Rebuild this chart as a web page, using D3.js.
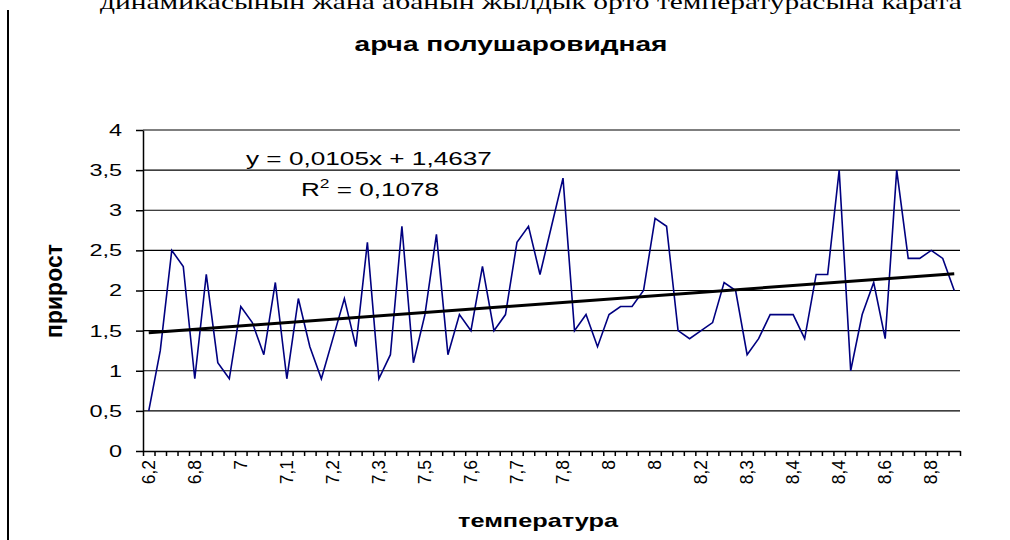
<!DOCTYPE html>
<html>
<head>
<meta charset="utf-8">
<script src="https://cdn.jsdelivr.net/npm/d3@7"></script>
<style>
    body { margin: 0; background: #fff; }
    svg { display: block; font-family: "Liberation Sans", Arial, sans-serif; }
</style>
</head>
<body>
<svg id="chart" width="1010" height="540"></svg>
<script>
// growth values (прирост), one per category along the x axis
const values = [
    0.5, 1.25, 2.5, 2.3, 0.9, 2.2, 1.1, 0.9, 1.8, 1.6, 1.2, 2.1,
    0.9, 1.9, 1.3, 0.9, 1.4, 1.9, 1.3, 2.6, 0.9, 1.2, 2.8, 1.1,
    1.7, 2.7, 1.2, 1.7, 1.5, 2.3, 1.5, 1.7, 2.6, 2.8, 2.2, 2.8,
    3.4, 1.5, 1.7, 1.3, 1.7, 1.8, 1.8, 2.0, 2.9, 2.8, 1.5, 1.4,
    1.5, 1.6, 2.1, 2.0, 1.2, 1.4, 1.7, 1.7, 1.7, 1.4, 2.2, 2.2,
    3.5, 1.0, 1.7, 2.1, 1.4, 3.5, 2.4, 2.4, 2.5, 2.4, 2.0
];

// temperature labels, only every 4th category is labelled in the chart
const tickLabels = ["6,2", "6,8", "7", "7,1", "7,2", "7,3", "7,5", "7,6", "7,7",
    "7,8", "8", "8", "8,2", "8,3", "8,4", "8,4", "8,6", "8,8"];
const labelStep = 4;

const yTicks = [0, 0.5, 1, 1.5, 2, 2.5, 3, 3.5, 4];

// linear trend shown on the chart
const slope = 0.0105,
    intercept = 1.4637,
    rSquared = 0.1078;

let margin = {top: 130, right: 50, bottom: 89, left: 143},
    width = 1010 - margin.left - margin.right,
    height = 540 - margin.top - margin.bottom;

let svg = d3.select("#chart");

let fmt = d => String(d).replace(".", ",");

// the excel chart fonts are wider than normal, so stretch a text to a given width
function stretch(text, x, y, targetWidth) {
    let w = text.node().getComputedTextLength();
    text.attr("transform", "translate(" + x + "," + y + ") scale(" + (targetWidth / w) + ",1)");
}

// cut off line of the document text above the chart
let docLine = svg.append("text")
    .style("font-family", "'Liberation Serif', 'Times New Roman', serif")
    .style("font-size", "21px")
    .text("динамикасынын жана абанын жылдык орто температурасына карата");
stretch(docLine, 100, 9, 862);

// frame line at the left side of the page
svg.append("line")
    .attr("x1", 8).attr("x2", 8)
    .attr("y1", 10).attr("y2", 540)
    .attr("stroke", "#000")
    .attr("stroke-width", 2);

let title = svg.append("text")
    .attr("text-anchor", "middle")
    .style("font-size", "20px")
    .style("font-weight", "bold")
    .text("арча полушаровидная");
stretch(title, 511, 51, 313);

let g = svg.append("g")
    .attr("transform", "translate(" + margin.left + "," + margin.top + ")");

let n = values.length;

let xScale = d3.scaleLinear().domain([0, n]).range([0, width]),
    yScale = d3.scaleLinear().domain([0, 4]).range([height, 0]);

let xMap = (d, i) => xScale(i + 0.5),
    yMap = d => yScale(d);

// horizontal gridlines
g.selectAll(".grid")
    .data(yTicks.slice(1))
    .enter().append("line")
    .attr("class", "grid")
    .attr("x1", 0)
    .attr("x2", width)
    .attr("y1", yScale)
    .attr("y2", yScale)
    .attr("stroke", "#000")
    .attr("stroke-width", 1.2);

// y axis
let yAxis = g.append("g")
    .call(d3.axisLeft(yScale).tickValues(yTicks).tickSize(7).tickSizeOuter(0).tickFormat(fmt));
yAxis.selectAll("text")
    .attr("x", -15.2)
    .attr("transform", "scale(1.38,1)")
    .style("font-size", "17px")
    .style("font-family", "'Liberation Sans', Arial, sans-serif")
    .attr("fill", "#000");
yAxis.selectAll("line, path").attr("stroke", "#000").attr("stroke-width", 1.5);

// x axis, ticks between the categories
let xAxis = g.append("g")
    .attr("transform", "translate(0," + height + ")")
    .call(d3.axisBottom(xScale).tickValues(d3.range(n + 1)).tickSize(5).tickSizeOuter(0).tickFormat(""));
xAxis.selectAll("line, path").attr("stroke", "#000").attr("stroke-width", 1.5);

// rotated category labels
g.selectAll(".xlabel")
    .data(tickLabels)
    .enter().append("text")
    .attr("class", "xlabel")
    .attr("transform", (d, i) => "translate(" + (xScale(i * labelStep + 0.5) + 6) + "," + (height + 9) + ") rotate(-90)")
    .attr("text-anchor", "end")
    .style("font-size", "17.5px")
    .text(d => d);

// data line
let line = d3.line()
    .x(xMap)
    .y(yMap);

g.append("path")
    .datum(values)
    .attr("d", line)
    .attr("fill", "none")
    .attr("stroke", "#000080")
    .attr("stroke-width", 1.6)
    .attr("stroke-linejoin", "miter");

// trend line, x counted from 1 like in the spreadsheet
let trend = [1, n].map(x => ({i: x - 1, v: slope * x + intercept}));
g.append("line")
    .attr("x1", xScale(trend[0].i + 0.5))
    .attr("y1", yScale(trend[0].v))
    .attr("x2", xScale(trend[1].i + 0.5))
    .attr("y2", yScale(trend[1].v))
    .attr("stroke", "#000")
    .attr("stroke-width", 3);

// equation labels
let eq = svg.append("text")
    .style("font-size", "18px")
    .text("y = " + fmt(slope) + "x + " + fmt(intercept));
stretch(eq, 246, 165, 246);

let r2 = svg.append("text")
    .style("font-size", "18px");
r2.append("tspan").text("R");
r2.append("tspan").attr("dy", -8).style("font-size", "12px").text("2");
r2.append("tspan").attr("dy", 8).text(" = " + fmt(rSquared));
stretch(r2, 301, 196, 138);

// axis titles
svg.append("text")
    .attr("transform", "translate(62,291) rotate(-90)")
    .attr("text-anchor", "middle")
    .style("font-size", "23px")
    .style("font-weight", "bold")
    .text("прирост");

let xTitle = svg.append("text")
    .attr("text-anchor", "middle")
    .style("font-size", "19px")
    .style("font-weight", "bold")
    .text("температура");
stretch(xTitle, 538, 527, 160);
</script>
</body>
</html>
